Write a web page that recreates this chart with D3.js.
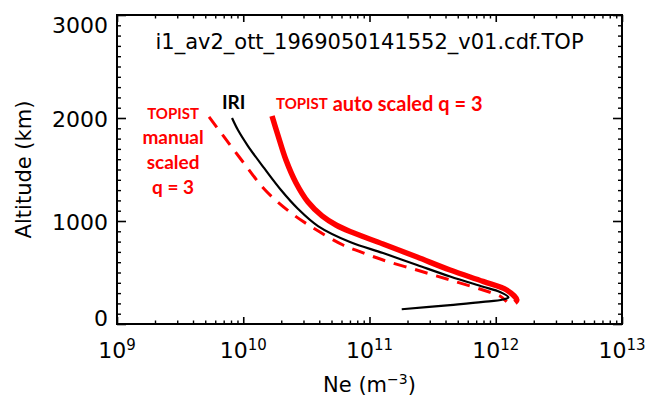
<!DOCTYPE html>
<html><head><meta charset="utf-8">
<script src="https://cdn.jsdelivr.net/npm/d3@7"></script>
<style>html,body{margin:0;padding:0;background:#fff;} svg{display:block;}</style>
</head><body>
<svg id="chart" width="647" height="400"></svg>
<script>
// ---------- data ----------
const chartTitle = "i1_av2_ott_1969050141552_v01.cdf.TOP";
const xTickExponents = [9, 10, 11, 12, 13];
const yTickValues = [0, 1000, 2000, 3000];

// IRI (black solid)
const iriAlt = [2000, 1883, 1728, 1515, 1301, 1117, 951, 796, 689, 573, 461, 362, 311, 259, 238, 214, 184, 143];
const iriNe  = [8.15e9, 9.08e9, 1.09e10, 1.46e10, 1.99e10, 2.72e10, 3.91e10, 7.01e10, 1.28e11, 2.38e11, 4.35e11, 7.93e11, 1.08e12, 1.26e12, 1.14e12, 7.93e11, 4.35e11, 1.80e11];

// TOPIST auto scaled q = 3 (red thick)
const autoAlt = [2019, 1835, 1592, 1369, 1184, 1049, 961, 898, 777, 650, 524, 413, 330, 233, 207];
const autoNe  = [1.69e10, 1.88e10, 2.18e10, 2.62e10, 3.26e10, 4.21e10, 5.43e10, 7.01e10, 1.28e11, 2.38e11, 4.35e11, 7.93e11, 1.22e12, 1.47e12, 1.42e12];

// TOPIST manual scaled q = 3 (red dashed)
const manualAlt = [2010, 1816, 1563, 1301, 1087, 922, 767, 702, 621, 524, 427, 330, 272, 217];
const manualNe  = [5.36e9, 7.05e9, 1.01e10, 1.49e10, 2.34e10, 3.70e10, 6.17e10, 8.41e10, 1.28e11, 2.37e11, 4.35e11, 7.93e11, 1.08e12, 1.22e12];

// ---------- layout ----------
const svg = d3.select("#chart");
const mLeft = 117, mRight = 622, mTop = 15, mBottom = 324;

const x = d3.scaleLog().domain([1e9, 1e13]).range([mLeft, mRight]);
const y = d3.scaleLinear().domain([0, 3000]).range([mBottom, mTop]);

const axisFont = "DejaVu Sans, sans-serif";

// minor tick positions
const xMinor = [];
xTickExponents.slice(0, -1).forEach(e => { for (let k = 2; k <= 9; k++) xMinor.push(k * Math.pow(10, e)); });
const xMajor = xTickExponents.map(e => Math.pow(10, e));
const yMinor = d3.range(0, 3001, 100).filter(v => v % 1000 !== 0);

function styleTicks(g, w) {
  g.select(".domain").remove();
  g.selectAll("line").attr("stroke", "#000").attr("stroke-width", w);
  g.selectAll("text").remove();
}

// bottom & top ticks (inward)
[[d3.axisBottom, mBottom], [d3.axisTop, mTop]].forEach(([ax, pos]) => {
  svg.append("g").attr("transform", `translate(0,${pos})`)
    .call(ax(x).tickValues(xMajor).tickSize(-7).tickFormat(""))
    .call(g => styleTicks(g, 1.6));
  svg.append("g").attr("transform", `translate(0,${pos})`)
    .call(ax(x).tickValues(xMinor).tickSize(-3.5).tickFormat(""))
    .call(g => styleTicks(g, 1.4));
});
// left & right ticks (inward)
[[d3.axisLeft, mLeft], [d3.axisRight, mRight]].forEach(([ax, pos]) => {
  svg.append("g").attr("transform", `translate(${pos},0)`)
    .call(ax(y).tickValues(yTickValues).tickSize(-9).tickFormat(""))
    .call(g => styleTicks(g, 1.6));
  svg.append("g").attr("transform", `translate(${pos},0)`)
    .call(ax(y).tickValues(yMinor).tickSize(-4).tickFormat(""))
    .call(g => styleTicks(g, 1.4));
});

// y tick labels
const yLab = svg.append("g").attr("transform", `translate(${mLeft},0)`)
  .call(d3.axisLeft(y).tickValues(yTickValues).tickSize(0).tickPadding(9).tickFormat(d3.format("d")));
yLab.select(".domain").remove();
yLab.selectAll("text").attr("font-family", axisFont).attr("font-size", 22).attr("fill", "#000")
  .attr("dy", d => d === 0 ? "0.05em" : d === 3000 ? "0.78em" : "0.40em");

// x tick labels 10^n
const xLab = svg.append("g");
xTickExponents.forEach(e => {
  const t = xLab.append("text").attr("x", x(Math.pow(10, e))).attr("y", mBottom + 34)
    .attr("text-anchor", "middle").attr("font-family", axisFont).attr("font-size", 22).attr("fill", "#000");
  t.append("tspan").text("10");
  t.append("tspan").attr("font-size", 15).attr("dy", -8).text(String(e));
});

// frame
svg.append("rect").attr("x", mLeft).attr("y", mTop).attr("width", mRight - mLeft).attr("height", mBottom - mTop)
  .attr("fill", "none").attr("stroke", "#000").attr("stroke-width", 2);

// axis titles
const xt = svg.append("text").attr("x", (mLeft + mRight) / 2).attr("y", 392).attr("text-anchor", "middle")
  .attr("font-family", axisFont).attr("font-size", 21).attr("fill", "#000");
xt.append("tspan").text("Ne (m");
xt.append("tspan").attr("font-size", 14).attr("dy", -8).text("\u22123");
xt.append("tspan").attr("dy", 8).text(")");

svg.append("text").attr("transform", `translate(31,${(mTop + mBottom) / 2}) rotate(-90)`)
  .attr("text-anchor", "middle").attr("font-family", axisFont).attr("font-size", 21).attr("fill", "#000")
  .text("Altitude (km)");

// title
svg.append("text").attr("x", x(1e11)).attr("y", y(2738)).attr("dominant-baseline", "central")
  .attr("text-anchor", "middle").attr("font-family", axisFont).attr("font-size", 21).attr("fill", "#000")
  .text(chartTitle);

// curves
const line = d3.line().x(d => x(d[0])).y(d => y(d[1])).curve(d3.curveCatmullRom.alpha(0.5));
const plot = svg.append("g");
plot.append("path").datum(d3.zip(autoNe, autoAlt)).attr("d", line)
  .attr("fill", "none").attr("stroke", "#ff0000").attr("stroke-width", 5.5).attr("stroke-linecap", "butt");
plot.append("path").datum(d3.zip(manualNe, manualAlt)).attr("d", line)
  .attr("fill", "none").attr("stroke", "#ff0000").attr("stroke-width", 3).attr("stroke-dasharray", "13,9");
plot.append("path").datum(d3.zip(iriNe, iriAlt)).attr("d", line)
  .attr("fill", "none").attr("stroke", "#000").attr("stroke-width", 2.2);

// annotations
const annFont = "Lato, 'Open Sans', sans-serif";
svg.append("text").attr("x", x(8.4e9)).attr("y", y(2165)).attr("dominant-baseline", "central")
  .attr("text-anchor", "middle").attr("font-family", annFont).attr("font-weight", "bold")
  .attr("font-size", 19).attr("fill", "#000").text("IRI");

const autoLab = svg.append("text").attr("x", x(1.82e10)).attr("y", y(2146)).attr("dominant-baseline", "central")
  .attr("text-anchor", "start").attr("font-family", annFont).attr("font-weight", "bold").attr("fill", "#ff0000");
autoLab.append("tspan").attr("font-size", 15).text("TOPIST");
autoLab.append("tspan").attr("font-size", 20).text(" auto scaled q = 3");

const manualLines = [["TOPIST", 15, 2049], ["manual", 19, 1825], ["scaled", 19, 1573], ["q = 3", 19, 1335]];
manualLines.forEach(([txt, fs, alt]) => {
  svg.append("text").attr("x", x(2.78e9)).attr("y", y(alt)).attr("dominant-baseline", "central")
    .attr("text-anchor", "middle").attr("font-family", annFont).attr("font-weight", "bold")
    .attr("font-size", fs).attr("fill", "#ff0000").text(txt);
});
</script>
</body></html>
